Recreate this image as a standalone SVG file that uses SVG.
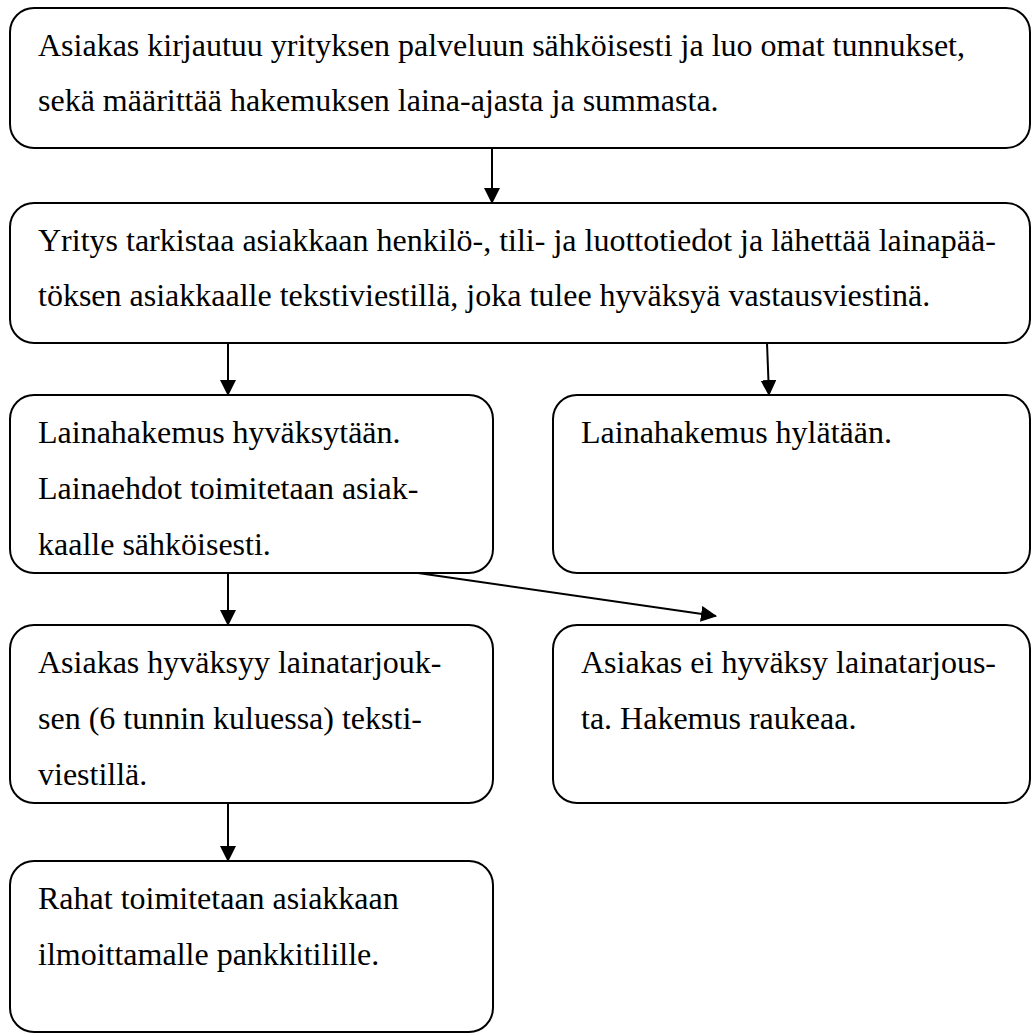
<svg xmlns="http://www.w3.org/2000/svg" width="1031" height="1034" viewBox="0 0 1031 1034">
<style>
.box{fill:#fff;stroke:#000;stroke-width:2}
.t{font-family:'Liberation Serif','Times New Roman',Times,serif;font-size:32px;fill:#000}
.c{stroke:#000;stroke-width:2;fill:none}
</style>
<defs>
<marker id="ah" viewBox="0 0 16 16" refX="15" refY="8" markerWidth="16" markerHeight="16" markerUnits="userSpaceOnUse" orient="auto">
<path d="M0,0 L16,8 L0,16 Z" fill="#000"/>
</marker>
</defs>
<rect width="1031" height="1034" fill="#fff"/>
<g id="connectors">
<line class="c" x1="492" y1="148" x2="492" y2="203" marker-end="url(#ah)"/>
<line class="c" x1="228" y1="343" x2="228" y2="395" marker-end="url(#ah)"/>
<line class="c" x1="767" y1="343" x2="769" y2="395" marker-end="url(#ah)"/>
<line class="c" x1="418" y1="573" x2="716" y2="616" marker-end="url(#ah)"/>
<line class="c" x1="228" y1="573" x2="228" y2="625" marker-end="url(#ah)"/>
<line class="c" x1="228" y1="803" x2="228" y2="861" marker-end="url(#ah)"/>
</g>
<g id="n1">
<rect class="box" x="10" y="8" width="1020" height="140" rx="24"/>
<text class="t" font-family="Liberation Serif" x="38" y="56">Asiakas kirjautuu yrityksen palveluun sähköisesti ja luo omat tunnukset,</text>
<text class="t" font-family="Liberation Serif" x="38" y="111">sekä määrittää hakemuksen laina-ajasta ja summasta.</text>
</g>
<g id="n2">
<rect class="box" x="10" y="203" width="1020" height="140" rx="24"/>
<text class="t" x="38" y="251">Yritys tarkistaa asiakkaan henkilö-, tili- ja luottotiedot ja lähettää lainapää-</text>
<text class="t" x="38" y="306">töksen asiakkaalle tekstiviestillä, joka tulee hyväksyä vastausviestinä.</text>
</g>
<g id="n3">
<rect class="box" x="10" y="395" width="483" height="178" rx="24"/>
<text class="t" x="38" y="443">Lainahakemus hyväksytään.</text>
<text class="t" x="38" y="499">Lainaehdot toimitetaan asiak-</text>
<text class="t" x="38" y="555">kaalle sähköisesti.</text>
</g>
<g id="n4">
<rect class="box" x="553" y="395" width="477" height="178" rx="24"/>
<text class="t" x="581" y="443">Lainahakemus hylätään.</text>
</g>
<g id="n5">
<rect class="box" x="10" y="625" width="483" height="178" rx="24"/>
<text class="t" x="38" y="673">Asiakas hyväksyy lainatarjouk-</text>
<text class="t" x="38" y="729">sen (6 tunnin kuluessa) teksti-</text>
<text class="t" x="38" y="785">viestillä.</text>
</g>
<g id="n6">
<rect class="box" x="553" y="625" width="477" height="178" rx="24"/>
<text class="t" x="581" y="673">Asiakas ei hyväksy lainatarjous-</text>
<text class="t" x="581" y="729">ta. Hakemus raukeaa.</text>
</g>
<g id="n7">
<rect class="box" x="10" y="861" width="483" height="171" rx="24"/>
<text class="t" x="38" y="909">Rahat toimitetaan asiakkaan</text>
<text class="t" x="38" y="965">ilmoittamalle pankkitilille.</text>
</g>
</svg>
